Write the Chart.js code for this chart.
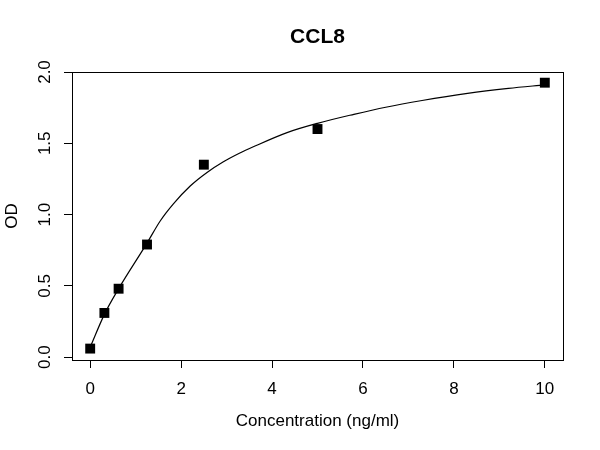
<!DOCTYPE html>
<html>
<head>
<meta charset="utf-8">
<script src="https://cdn.jsdelivr.net/npm/chart.js@4"></script>
<style>
  html, body { margin: 0; padding: 0; background: #fff; }
  #wrap { width: 600px; height: 450px; }
</style>
</head>
<body>
<div id="wrap"><canvas id="c" width="600" height="450"></canvas></div>
<script>
const titleText = 'CCL8';
const xTitle = 'Concentration (ng/ml)';
const yTitle = 'OD';

// measured standards
const concentrations = [0, 0.3125, 0.625, 1.25, 2.5, 5, 10];
const odValues = [0.06, 0.31, 0.48, 0.79, 1.35, 1.60, 1.925];

// fitted curve
const curveX = [0, 0.3125, 0.625, 1.25, 1.54, 1.83, 2.2, 2.57, 2.93, 3.27, 3.6, 4.33, 5, 5.8, 6.5, 7.3, 8.3, 9.2, 10];
const curveY = [0.07, 0.30, 0.48, 0.80, 0.955, 1.075, 1.20, 1.295, 1.37, 1.428, 1.477, 1.575, 1.64, 1.703, 1.753, 1.80, 1.85, 1.885, 1.91];

const xTicks = [0, 2, 4, 6, 8, 10];
const yTicks = [0.0, 0.5, 1.0, 1.5, 2.0];

const FONT = 'Liberation Sans, Arial, Helvetica, sans-serif';

const boxPlugin = {
  id: 'box',
  afterDraw(chart) {
    const a = chart.chartArea, ctx = chart.ctx;
    ctx.save();
    ctx.strokeStyle = '#000';
    ctx.lineWidth = 1;
    ctx.strokeRect(Math.round(a.left) + 0.5, Math.round(a.top) + 0.5,
                   Math.round(a.right - a.left), Math.round(a.bottom - a.top));
    ctx.restore();
  }
};

new Chart(document.getElementById('c'), {
  type: 'scatter',
  data: {
    datasets: [
      {
        label: 'fit',
        data: curveX.map((x, i) => ({ x, y: curveY[i] })),
        showLine: true,
        borderColor: '#000',
        borderWidth: 1.2,
        pointRadius: 0,
        cubicInterpolationMode: 'monotone',
        fill: false,
        order: 2
      },
      {
        label: 'OD',
        data: concentrations.map((x, i) => ({ x, y: odValues[i] })),
        pointStyle: 'rect',
        pointRadius: 7,
        backgroundColor: '#000',
        borderColor: '#000',
        borderWidth: 0,
        order: 1
      }
    ]
  },
  options: {
    responsive: false,
    animation: false,
    events: [],
    layout: { padding: { left: 0, right: 37, top: 0, bottom: 0 } },
    plugins: {
      legend: { display: false },
      tooltip: { enabled: false },
      title: {
        display: true,
        text: titleText,
        fullSize: false,
        color: '#000',
        font: { family: FONT, size: 21, weight: 'bold' },
        padding: { top: 25, bottom: 21.8 }
      }
    },
    scales: {
      x: {
        type: 'linear',
        min: -0.4,
        max: 10.4,
        afterFit(s) { s.height = 90; },
        afterBuildTicks(s) { s.ticks = xTicks.map(v => ({ value: v })); },
        ticks: {
          includeBounds: false,
          color: '#000',
          font: { family: FONT, size: 17 },
          padding: 11,
          maxRotation: 0,
          callback: v => String(v)
        },
        grid: { drawOnChartArea: false, drawTicks: true, tickLength: 8, color: '#000' },
        border: { display: false },
        title: {
          display: true,
          text: xTitle,
          color: '#000',
          font: { family: FONT, size: 17 },
          padding: { top: 0, bottom: 18 }
        }
      },
      y: {
        type: 'linear',
        min: -0.02,
        max: 2.0,
        afterFit(s) { s.width = 72; },
        afterBuildTicks(s) { s.ticks = yTicks.map(v => ({ value: v })); },
        ticks: {
          includeBounds: false,
          color: '#000',
          font: { family: FONT, size: 17 },
          padding: 7,
          minRotation: 90,
          maxRotation: 90,
          crossAlign: 'center',
          callback: v => Number(v).toFixed(1)
        },
        grid: { drawOnChartArea: false, drawTicks: true, tickLength: 8, color: '#000' },
        border: { display: false },
        title: {
          display: true,
          text: yTitle,
          color: '#000',
          font: { family: FONT, size: 17 },
          padding: { top: 2, bottom: 0 }
        }
      }
    }
  },
  plugins: [boxPlugin]
});
</script>
</body>
</html>
